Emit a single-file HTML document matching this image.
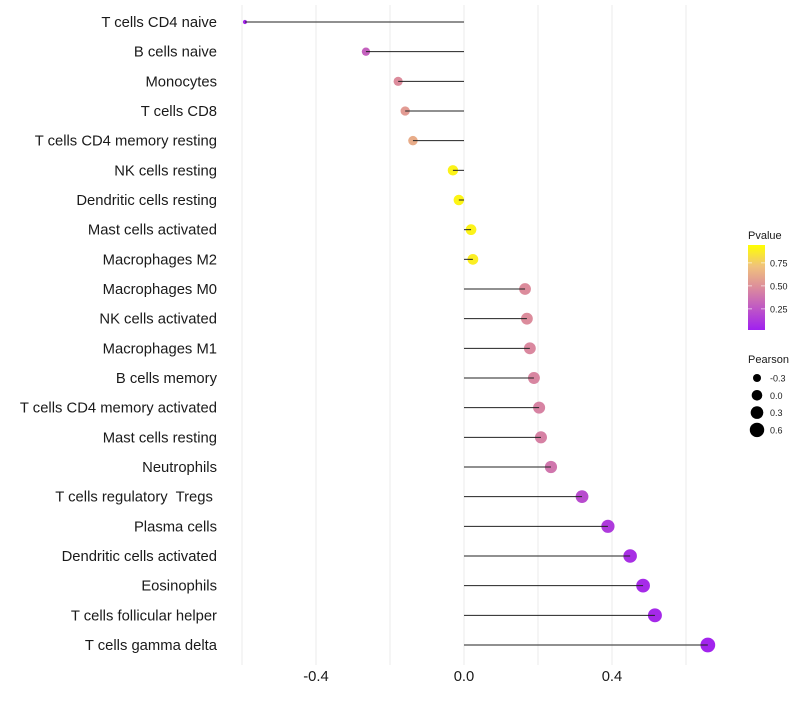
<!DOCTYPE html>
<html><head><meta charset="utf-8"><style>
body{margin:0;background:#fff;font-family:"Liberation Sans",sans-serif;}
text{white-space:pre;}
</style></head><body>
<svg id="chart" width="800" height="700" xmlns="http://www.w3.org/2000/svg">
<defs><linearGradient id="pg" x1="0" y1="1" x2="0" y2="0">
<stop offset="0" stop-color="#a020f0"/><stop offset="0.5" stop-color="#dc8c9c"/><stop offset="0.75" stop-color="#f0c27c"/><stop offset="1" stop-color="#ffff00"/></linearGradient></defs>
<g id="grid"></g><g id="marks"></g><g id="ylabels"></g><g id="xlabels"></g><g id="legend"></g>
</svg>
<script>
const categories=["T cells CD4 naive","B cells naive","Monocytes","T cells CD8","T cells CD4 memory resting","NK cells resting","Dendritic cells resting","Mast cells activated","Macrophages M2","Macrophages M0","NK cells activated","Macrophages M1","B cells memory","T cells CD4 memory activated","Mast cells resting","Neutrophils","T cells regulatory  Tregs ","Plasma cells","Dendritic cells activated","Eosinophils","T cells follicular helper","T cells gamma delta"];
const pearson=[-0.592,-0.265,-0.178,-0.159,-0.138,-0.03,-0.014,0.019,0.024,0.165,0.17,0.178,0.189,0.203,0.208,0.235,0.319,0.389,0.449,0.484,0.516,0.659];
const pvalue=[0.03,0.3,0.5,0.57,0.65,0.95,0.96,0.95,0.93,0.5,0.5,0.48,0.47,0.46,0.45,0.4,0.2,0.12,0.07,0.05,0.04,0.02];
const xTicks=[-0.4,0.0,0.4];
const xTickLabels=["-0.4","0.0","0.4"];
const gridVals=[-0.6,-0.4,-0.2,0,0.2,0.4,0.6];
const sizeLegend=[-0.3,0.0,0.3,0.6];
const pLegend=[0.25,0.5,0.75];
const NS="http://www.w3.org/2000/svg";
const X=v=>464+v*370;
const Y=i=>22+i*(623/21);
const R=v=>Math.sqrt(Math.max(0.5,28+40*v));
function col(p){
  const st=[[0,[160,32,240]],[0.5,[220,140,156]],[0.75,[240,194,124]],[1,[255,255,0]]];
  for(let k=1;k<st.length;k++){if(p<=st[k][0]){const t=(p-st[k-1][0])/(st[k][0]-st[k-1][0]);const a=st[k-1][1],b=st[k][1];return `rgb(${a.map((c,j)=>Math.round(c+(b[j]-c)*t)).join(',')})`;}}
  return 'rgb(255,255,0)';
}
function mk(tag,at,parent,txt){const e=document.createElementNS(NS,tag);for(const k in at)e.setAttribute(k,at[k]);if(txt!==undefined)e.textContent=txt;document.getElementById(parent).appendChild(e);return e;}
gridVals.forEach(g=>{const e=mk('line',{x1:X(g),x2:X(g),y1:5,y2:665,stroke:'#ebebeb','stroke-width':1},'grid');

});
categories.forEach((c,i)=>{
  const y=Y(i);
  const pt=mk('circle',{cx:X(pearson[i]),cy:y,r:R(pearson[i]),fill:col(pvalue[i])},'marks');
  
  
  const ln=mk('line',{x1:X(0),x2:X(pearson[i]),y1:y,y2:y,stroke:'#222','stroke-width':1},'marks');
  
  
  const t=mk('text',{x:217,y:y+5,'text-anchor':'end','font-size':14.8,fill:'#1a1a1a'},'ylabels',c);
  
  
});
xTicks.forEach((v,i)=>{const t=mk('text',{x:X(v),y:681,'text-anchor':'middle','font-size':14.8,fill:'#1a1a1a'},'xlabels',xTickLabels[i]);

});
let t=mk('text',{x:748,y:239,'font-size':11,fill:'#1a1a1a'},'legend','Pvalue');


const bar=mk('rect',{x:748,y:245,width:17,height:85,fill:'url(#pg)'},'legend');


const PY=p=>330-(p-0.02)*92;
pLegend.forEach(p=>{mk('line',{x1:748,x2:752,y1:PY(p),y2:PY(p),stroke:'#fff','stroke-opacity':0.6},'legend');mk('line',{x1:761,x2:765,y1:PY(p),y2:PY(p),stroke:'#fff','stroke-opacity':0.6},'legend');
const l=mk('text',{x:770,y:PY(p)+3.5,'font-size':9,fill:'#1a1a1a'},'legend',p.toFixed(2));

});
t=mk('text',{x:748,y:363,'font-size':11,fill:'#1a1a1a'},'legend','Pearson');


sizeLegend.forEach((v,i)=>{const y=378+i*17.3;
const c=mk('circle',{cx:757,cy:y,r:R(v),fill:'#000'},'legend');


const l=mk('text',{x:770,y:y+3.5,'font-size':9,fill:'#1a1a1a'},'legend',v.toFixed(1));

});
</script>
</body></html>
